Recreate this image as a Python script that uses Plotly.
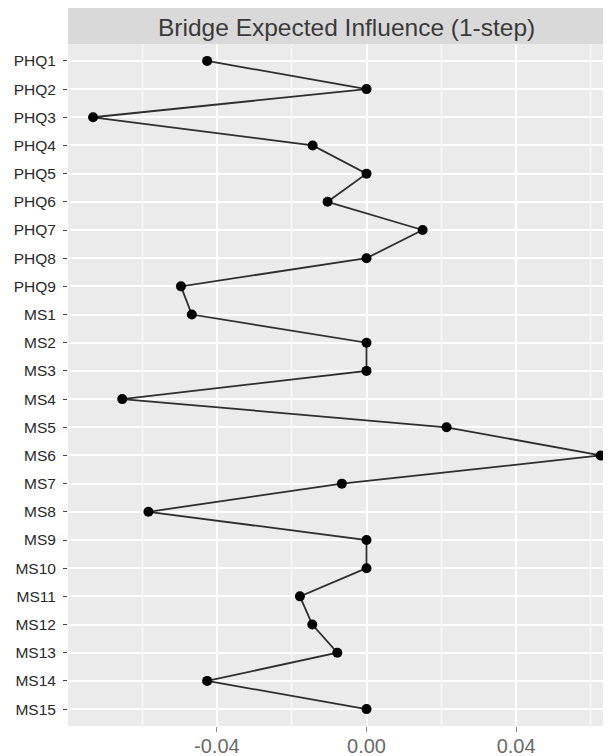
import plotly.graph_objects as go

nodes = ["PHQ1", "PHQ2", "PHQ3", "PHQ4", "PHQ5", "PHQ6", "PHQ7", "PHQ8", "PHQ9",
         "MS1", "MS2", "MS3", "MS4", "MS5", "MS6", "MS7", "MS8", "MS9", "MS10",
         "MS11", "MS12", "MS13", "MS14", "MS15"]
bridge_ei = [-0.0426, 0.0, -0.0731, -0.0144, 0.0, -0.0104, 0.0150, 0.0, -0.0496,
             -0.0467, 0.0, 0.0, -0.0653, 0.0214, 0.0626, -0.0066, -0.0583, 0.0, 0.0,
             -0.0178, -0.0145, -0.0078, -0.0426, 0.0]
x_tickvals = [-0.04, 0.0, 0.04]
x_ticktext = ["-0.04", "0.00", "0.04"]
x_minor = [-0.06, -0.02, 0.02, 0.06]
title_text = "Bridge Expected Influence (1-step)"

PLOT_TOP, PLOT_BOTTOM, PLOT_LEFT = 36, 718, 60
W, H = 611, 756
ph = PLOT_BOTTOM - PLOT_TOP
pw = W - PLOT_LEFT

fig = go.Figure()
fig.add_trace(go.Scatter(
    x=bridge_ei, y=nodes, mode="lines+markers",
    line=dict(color="#2e2e2e", width=1.8),
    marker=dict(color="black", size=10),
    showlegend=False, cliponaxis=False,
))

fig.update_layout(
    width=W, height=H,
    margin=dict(l=PLOT_LEFT, r=0, t=PLOT_TOP, b=H - PLOT_BOTTOM),
    paper_bgcolor="white",
    plot_bgcolor="#ebebeb",
    font=dict(family="Liberation Sans, Arial, sans-serif"),
    xaxis=dict(
        range=[-0.0798, 0.0675],
        tickvals=x_tickvals, ticktext=x_ticktext,
        showgrid=True, gridcolor="white", gridwidth=1.5,
        minor=dict(tickvals=x_minor, showgrid=True,
                   gridcolor="white", gridwidth=0.8, ticks=""),
        zeroline=False,
        ticks="outside", ticklen=5, tickcolor="#8a8a8a", tickwidth=1.2,
        ticklabelstandoff=-3,
        tickfont=dict(size=20, color="#6a6a6a"),
        automargin=False,
    ),
    yaxis=dict(
        type="category", categoryorder="array", categoryarray=nodes,
        range=[23.6, -0.6],
        showgrid=True, gridcolor="white", gridwidth=1.5,
        zeroline=False,
        ticks="outside", ticklen=4, tickcolor="#444", tickwidth=1,
        ticklabelstandoff=4,
        tickfont=dict(size=15.5, color="#2a2a2a"),
        automargin=False,
    ),
)

fig.add_shape(type="rect", xref="paper", yref="paper",
              x0=0, x1=1, y0=1, y1=1 + PLOT_TOP / ph,
              fillcolor="#d9d9d9", line=dict(width=0), layer="below")
fig.add_annotation(text=title_text, xref="paper", yref="paper",
                   x=(338.5 - PLOT_LEFT) / pw, y=1 + (PLOT_TOP - 19.5) / ph,
                   showarrow=False,
                   font=dict(size=24.5, color="#3a3a3a"),
                   xanchor="center", yanchor="middle")

fig.write_html("out.html")
